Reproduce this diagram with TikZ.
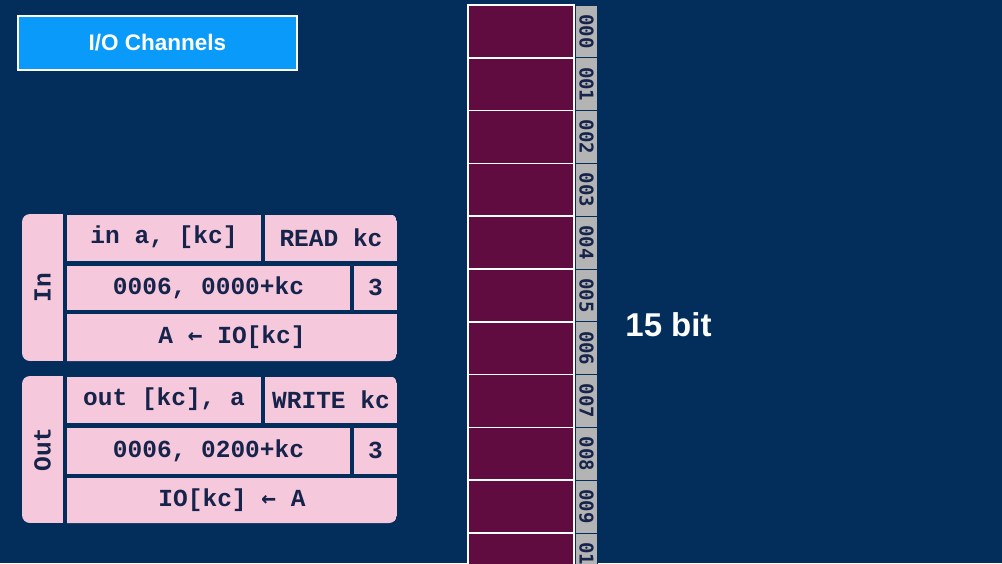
\documentclass[tikz,border=0pt]{standalone}
\usepackage{fontspec}
\setmainfont{Liberation Sans}
\newfontfamily\monof{Liberation Mono}
\newfontfamily\arrf{DejaVu Sans Mono}
\newfontfamily\labf{DejaVu Sans Mono}
\definecolor{bgc}{RGB}{3,45,91}
\definecolor{pinkc}{RGB}{246,200,220}
\definecolor{navyt}{RGB}{22,35,75}
\definecolor{cellc}{RGB}{97,12,64}
\definecolor{grayc}{RGB}{180,180,180}
\definecolor{bluec}{RGB}{10,155,250}
\tikzset{
  pcell/.style={rectangle, fill=pinkc, inner sep=0pt, text=navyt,
    font=\monof\bfseries\fontsize{24.5}{24.5}\selectfont},
  memcell/.style={rectangle, fill=cellc, draw=white, line width=1.6pt,
    minimum width=106, minimum height=52.8, inner sep=0pt},
  memlab/.style={rectangle, fill=grayc, draw=bgc, line width=0.8pt, rotate=-90,
    minimum width=52.8, minimum height=22, inner sep=0pt, text=navyt,
    font=\labf\bfseries\fontsize{19}{19}\selectfont},
  titlebox/.style={rectangle, fill=bluec, draw=white, line width=2.5pt,
    minimum width=279, minimum height=54, inner sep=0pt, text=white,
    font=\bfseries\fontsize{22.5}{22.5}\selectfont}
}
\newcommand{\la}{{\arrf\bfseries\char"2190}}
\begin{document}
\begin{tikzpicture}[x=1pt,y=-1pt]
\path[use as bounding box, fill=bgc] (0,0) rectangle (1002,563);
\begin{scope}
\clip (0,0) rectangle (1002,563);
% title
\node[titlebox] (title) at (157.5,43) {I/O Channels};
% memory column
\foreach \i/\t in {0/000,1/001,2/002,3/003,4/004,5/005,6/006,7/007,8/008,9/009,10/010}{
  \node[memcell] (m\i) at (521,{5+52.8*(\i+0.5)}) {};
  \node[memlab] (l\i) at (586.5,{5+52.8*(\i+0.5)}) {\t};
}
\node[text=white, font=\bfseries\fontsize{33}{33}\selectfont, inner sep=0pt] (bits) at (668.5,325) {15 bit};
% In panel
\begin{scope}
\clip[rounded corners=8] (22,214) rectangle (397,361);
\node[pcell, minimum width=147, minimum height=41, rotate=90] (inlab) at (42.5,287.5) {In};
\node[pcell, minimum width=194, minimum height=46] (in1) at (164,237.5) {in a, [kc]};
\node[pcell, minimum width=132, minimum height=46] (in2) at (331,237.5) {READ kc};
\node[pcell, minimum width=283, minimum height=44] (in3) at (208.5,287.5) {0006, 0000+kc};
\node[pcell, minimum width=43, minimum height=44] (in4) at (375.5,287.5) {3};
\node[pcell, minimum width=330, minimum height=48] (in5) at (232,337.5) {A \la{} IO[kc]};
\end{scope}
% Out panel
\begin{scope}
\clip[rounded corners=8] (22,376) rectangle (397,523);
\node[pcell, minimum width=147, minimum height=41, rotate=90] (outlab) at (42.5,449.5) {Out};
\node[pcell, minimum width=194, minimum height=46] (out1) at (164,399.5) {out [kc], a};
\node[pcell, minimum width=132, minimum height=46] (out2) at (331,399.5) {WRITE kc};
\node[pcell, minimum width=283, minimum height=46] (out3) at (208.5,450.5) {0006, 0200+kc};
\node[pcell, minimum width=43, minimum height=46] (out4) at (375.5,450.5) {3};
\node[pcell, minimum width=330, minimum height=46] (out5) at (232,500.5) {IO[kc] \la{} A};
\end{scope}
\end{scope}
\end{tikzpicture}
\end{document}
